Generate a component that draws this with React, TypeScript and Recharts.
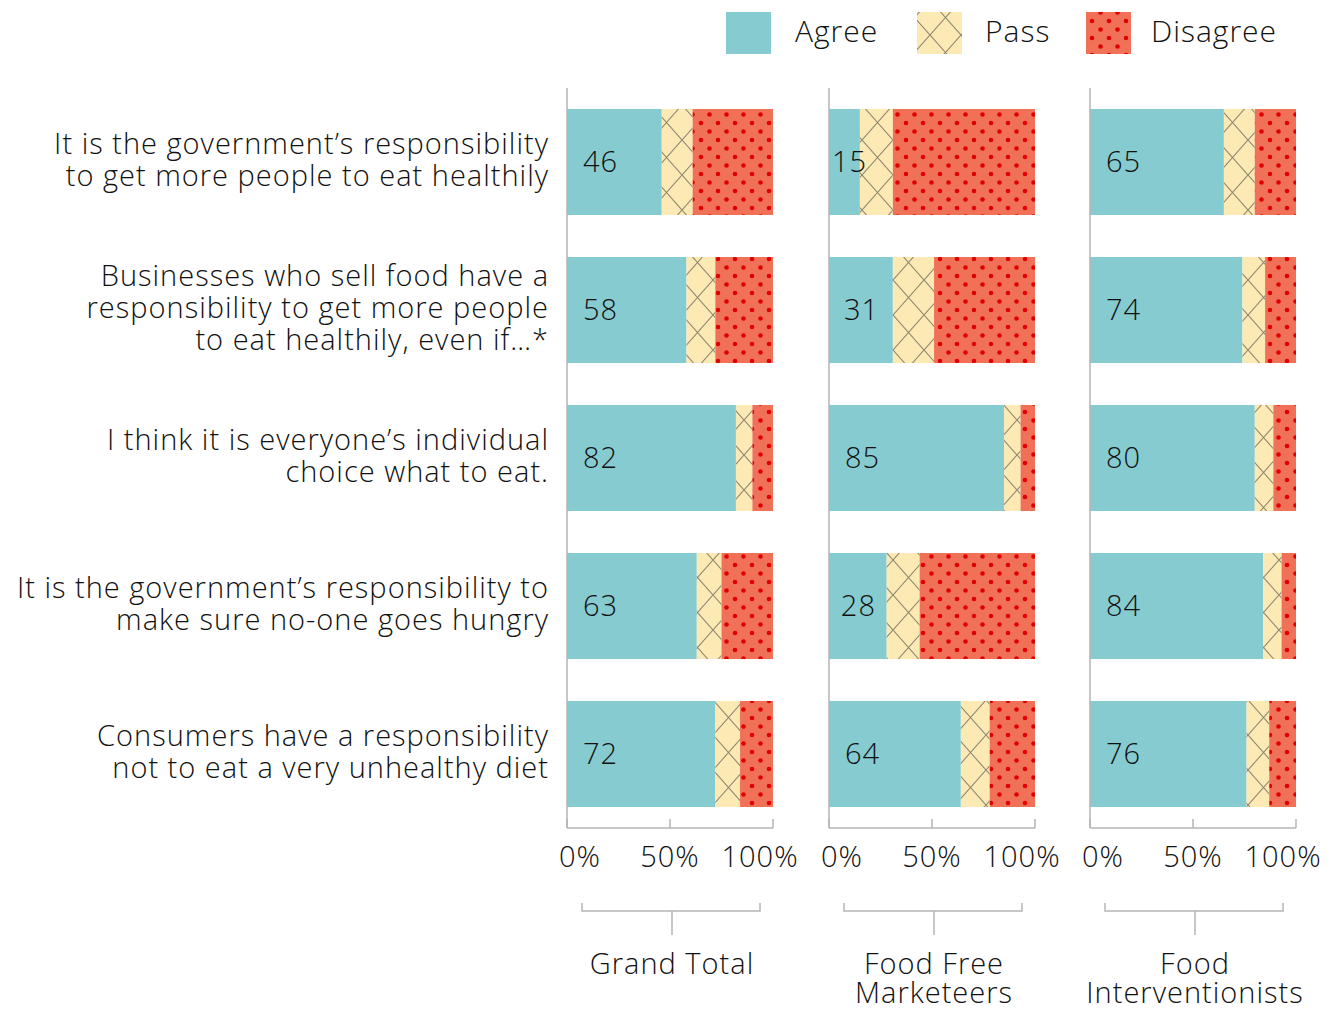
import React from 'react'
import { BarChart, Bar, XAxis, YAxis, LabelList } from 'recharts'

const statements = [
  ['It is the government’s responsibility', 'to get more people to eat healthily'],
  ['Businesses who sell food have a', 'responsibility to get more people', 'to eat healthily, even if…*'],
  ['I think it is everyone’s individual', 'choice what to eat.'],
  ['It is the government’s responsibility to', 'make sure no-one goes hungry'],
  ['Consumers have a responsibility', 'not to eat a very unhealthy diet']
]

const grandTotalAgree = [46, 58, 82, 63, 72]
const grandTotalPass = [15, 14, 8, 12, 12]
const grandTotalDisagree = [39, 28, 10, 25, 16]

const marketeersAgree = [15, 31, 85, 28, 64]
const marketeersPass = [16, 20, 8, 16, 14]
const marketeersDisagree = [69, 49, 7, 56, 22]

const interventionistsAgree = [65, 74, 80, 84, 76]
const interventionistsPass = [15, 11, 9, 9, 11]
const interventionistsDisagree = [20, 15, 11, 7, 13]

const xTicks = [0, 50, 100]
const seriesNames = ['Agree', 'Pass', 'Disagree']

const FONT = '"Open Sans", Lato, sans-serif'
const WEIGHT = 300
const AXIS = '#b5b5b5'
const AGREE = '#86CBD0'
const TEXT = '#111'

// pattern tiles for the Pass (crosshatch) and Disagree (dots) series
const patternDefs = (id: string) => (
  <defs>
    <pattern id={`pass-${id}`} width={31} height={35} patternUnits="userSpaceOnUse">
      <rect width={31} height={35} fill="#FDE9B3" />
      <path d="M0,0 L31,35 M31,0 L0,35" stroke="#8E8672" strokeWidth={1.1} />
    </pattern>
    <pattern id={`dis-${id}`} width={17} height={17} patternUnits="userSpaceOnUse">
      <rect width={17} height={17} fill="#F07157" />
      <circle cx={4} cy={4} r={2.3} fill="#E00000" />
      <circle cx={12.5} cy={12.5} r={2.3} fill="#E00000" />
    </pattern>
  </defs>
)

const txt = { fontFamily: FONT, fontWeight: WEIGHT, fill: TEXT, letterSpacing: 1 }

const renderXTick = (props: any) => {
  const { x, y, payload } = props
  const shift = payload.value === 0 ? 13 : payload.value === 100 ? -13 : 0
  return (
    <g>
      <line x1={x} x2={x} y1={y - 9} y2={y} stroke={AXIS} strokeWidth={1.5} />
      <text x={x + shift} y={y + 39} textAnchor="middle" fontSize={29} {...txt}>
        {payload.value}%
      </text>
    </g>
  )
}

const renderYTick = (props: any) => {
  const { x, y, index } = props
  const lines = statements[index] || []
  return (
    <g>
      {lines.map((line, i) => (
        <text
          key={i}
          x={x - 18}
          y={y + (i - (lines.length - 1) / 2) * 32 + 8}
          textAnchor="end"
          fontSize={29}
          {...txt}
        >
          {line}
        </text>
      ))}
    </g>
  )
}

const renderBarLabel = (props: any) => {
  const { x, y, width, height, value } = props
  const pad = Math.min(16, Math.max(3, (Number(width) - 34) / 2))
  return (
    <text x={Number(x) + pad} y={Number(y) + Number(height) / 2 + 10} fontSize={29} {...txt}>
      {value}
    </text>
  )
}

const makeBracket = (title: string[]) => (props: any) => {
  const { x, y, width } = props.viewBox
  const left = x + 15
  const right = x + width - 13
  const mid = x + width / 2 + 2
  const ly = y + 83
  return (
    <g>
      <path
        d={`M${left},${ly - 8} V${ly} H${right} V${ly - 8}`}
        fill="none"
        stroke={AXIS}
        strokeWidth={1.5}
      />
      <line x1={mid} x2={mid} y1={ly} y2={y + 107} stroke={AXIS} strokeWidth={1.5} />
      {title.map((t, i) => (
        <text key={i} x={mid} y={y + 146 + i * 29} textAnchor="middle" fontSize={29} {...txt}>
          {t}
        </text>
      ))}
    </g>
  )
}

// legend strip, swatch x offsets per entry
const legendSwatchX = [726, 917, 1086]
const legendTextX = [795, 985, 1151]
const LegendStrip = () => (
  <svg width={1338} height={62} style={{ position: 'absolute', left: 0, top: 0 }}>
    {patternDefs('lg')}
    {seriesNames.map((name, i) => (
      <g key={name}>
        <rect
          x={legendSwatchX[i]}
          y={12}
          width={45}
          height={42}
          fill={i === 0 ? AGREE : i === 1 ? 'url(#pass-lg)' : 'url(#dis-lg)'}
        />
        <text x={legendTextX[i]} y={42} fontSize={30} {...txt}>
          {name}
        </text>
      </g>
    ))}
  </svg>
)

interface PanelProps {
  id: string
  title: string[]
  agree: number[]
  pass: number[]
  disagree: number[]
  left: number
  width: number
  yAxisWidth: number
  showLabels?: boolean
}

const Panel: React.FC<PanelProps> = ({
  id,
  title,
  agree,
  pass,
  disagree,
  left,
  width,
  yAxisWidth,
  showLabels
}) => {
  const data = statements.map((s, i) => ({
    statement: s.join(' '),
    agree: agree[i],
    pass: pass[i],
    disagree: disagree[i]
  }))

  return (
    <div style={{ position: 'absolute', left, top: 0 }}>
      <BarChart
        layout="vertical"
        width={width}
        height={1010}
        data={data}
        margin={{ top: 88, right: width - yAxisWidth - 206, bottom: 0, left: 0 }}
        barCategoryGap={21}
      >
        {patternDefs(id)}
        <XAxis
          type="number"
          domain={[0, 100]}
          ticks={xTicks}
          height={182}
          axisLine={{ stroke: AXIS, strokeWidth: 1.5 }}
          tickLine={false}
          tickSize={0}
          tickMargin={0}
          tick={renderXTick}
          interval={0}
          label={{ content: makeBracket(title) }}
        />
        <YAxis
          type="category"
          dataKey="statement"
          width={yAxisWidth}
          axisLine={{ stroke: AXIS, strokeWidth: 1.5 }}
          tickLine={false}
          tickSize={0}
          tickMargin={0}
          interval={0}
          tick={showLabels ? renderYTick : false}
        />
        <Bar dataKey="agree" name="Agree" stackId="a" fill={AGREE} barSize={106} isAnimationActive={false}>
          <LabelList dataKey="agree" content={renderBarLabel} />
        </Bar>
        <Bar dataKey="pass" name="Pass" stackId="a" fill={`url(#pass-${id})`} barSize={106} isAnimationActive={false} />
        <Bar dataKey="disagree" name="Disagree" stackId="a" fill={`url(#dis-${id})`} barSize={106} isAnimationActive={false} />
      </BarChart>
    </div>
  )
}

const App: React.FC = () => {
  return (
    <div style={{ position: 'absolute', left: 0, top: 0, width: 1338, height: 1010, background: '#fff' }}>
      <LegendStrip />
      <Panel
        id="p1"
        title={['Grand Total']}
        agree={grandTotalAgree}
        pass={grandTotalPass}
        disagree={grandTotalDisagree}
        left={0}
        width={800}
        yAxisWidth={567}
        showLabels
      />
      <Panel
        id="p2"
        title={['Food Free', 'Marketeers']}
        agree={marketeersAgree}
        pass={marketeersPass}
        disagree={marketeersDisagree}
        left={800}
        width={270}
        yAxisWidth={29}
      />
      <Panel
        id="p3"
        title={['Food', 'Interventionists']}
        agree={interventionistsAgree}
        pass={interventionistsPass}
        disagree={interventionistsDisagree}
        left={1062}
        width={276}
        yAxisWidth={28}
      />
    </div>
  )
}

export default App
